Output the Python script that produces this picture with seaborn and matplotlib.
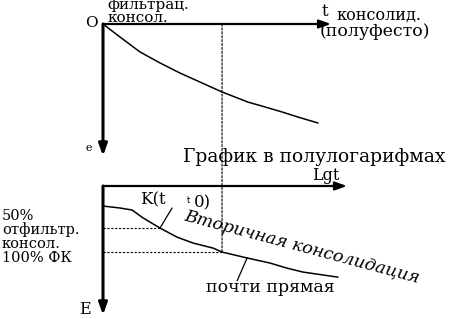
import numpy as np
import pandas as pd
import seaborn as sns
from matplotlib import pyplot
from matplotlib.patches import ConnectionPatch

# top panel: strain e vs time t (arithmetic scale)
t_vals = [0.0, 0.77, 1.68, 2.59, 3.5, 4.41, 5.41, 6.0, 6.59, 7.36, 8.14, 8.86, 9.77]
e_vals = [0.0, 0.59, 1.27, 1.77, 2.23, 2.64, 3.09, 3.32, 3.55, 3.77, 4.0, 4.23, 4.5]

# bottom panel: E vs lg t
lgt_vals = [0.0, 0.77, 1.32, 1.82, 2.59, 3.36, 4.09, 5.0, 5.41, 6.55, 7.59, 8.36, 9.09, 10.68]
E_vals = [0.91, 1.0, 1.09, 1.45, 1.91, 2.32, 2.59, 2.82, 3.0, 3.27, 3.5, 3.73, 3.91, 4.14]

t0 = 5.41        # end of filtration consolidation
lgt50, E50 = 2.59, 1.91
E100 = 3.0

W, H = 463, 319

sns.set_style('white')
pyplot.rcParams['font.family'] = ['DejaVu Serif']

fig = pyplot.figure(figsize=(W / 100, H / 100), dpi=100, facecolor='white')


def box(x0, y0, x1, y1):
    return [x0 / W, 1 - y1 / H, (x1 - x0) / W, (y1 - y0) / H]


def txt(x, y, s, size=12, **kw):
    fig.text(x / W, 1 - y / H, s, fontsize=size, color='black', **kw)


top = fig.add_axes(box(103, 24, 331, 156))
bot = fig.add_axes(box(103, 186, 347, 315))

top.set_xlim(0, 10.36)
top.set_ylim(6.0, 0)
bot.set_xlim(0, 11.09)
bot.set_ylim(5.86, 0)

for ax in (top, bot):
    ax.axis('off')
    x1 = ax.get_xlim()[1]
    y1 = ax.get_ylim()[0]
    arrow = dict(arrowstyle='-|>,head_length=0.7,head_width=0.25', lw=1.6,
                 color='black', shrinkA=0, shrinkB=0)
    ax.annotate('', xy=(x1, 0), xytext=(0, 0), arrowprops=arrow, annotation_clip=False)
    ax.annotate('', xy=(0, y1), xytext=(0, 0), arrowprops=dict(arrow, lw=2.2),
                annotation_clip=False)

df_top = pd.DataFrame({'t': t_vals, 'e': e_vals})
df_bot = pd.DataFrame({'lgt': lgt_vals, 'E': E_vals})

sns.lineplot(data=df_top, x='t', y='e', ax=top, color='black', lw=1.1, sort=False)
sns.lineplot(data=df_bot, x='lgt', y='E', ax=bot, color='black', lw=1.1, sort=False)

# dashed guides
con = ConnectionPatch(xyA=(t0, 0), coordsA=top.transData,
                      xyB=(t0, E100), coordsB=bot.transData,
                      linestyle=(0, (2, 1.5)), lw=0.8, color='black')
fig.add_artist(con)
bot.hlines([E50], 0, lgt50, color='black', lw=0.8, linestyles=[(0, (2, 1.5))])
bot.hlines([E100], 0, t0, color='black', lw=0.8, linestyles=[(0, (2, 1.5))])

# leader lines
bot.plot([lgt50, 3.14], [E50, 1.0], color='black', lw=0.9)
bot.plot([6.55, 6.1], [3.27, 4.3], color='black', lw=0.9)

# labels
txt(107, 5, 'фильтрац.', size=11, va='center')
txt(107, 18, 'консол.', size=11, va='center')
txt(85, 23, 'O', size=11, va='center')
txt(322, 12, 't', size=12, va='center')
txt(336, 15, 'консолид.', size=11.5, va='center')
txt(320, 32, '(полуфесто)', size=12.5, va='center')
txt(86, 148, 'е', size=8, va='center')
txt(183, 157, 'График в полулогарифмах', size=13.5, va='center')
txt(312, 175, 'Lgt', size=11.5, va='center')
txt(140, 200, 'K(t', va='center')
txt(186, 199, '$_{\\rm t}$', size=9, va='center')
txt(194, 203, '0)', va='center')
txt(302, 247, 'Вторичная консолидация', size=12.5, ha='center', va='center',
    rotation=-15, style='italic')
txt(270, 287, 'почти прямая', size=12.5, ha='center', va='center')
txt(2, 216, '50%', size=10.5, va='center')
txt(2, 230, 'отфильтр.', size=10.5, va='center')
txt(2, 244, 'консол.', size=10.5, va='center')
txt(2, 258, '100% ФК', size=10.5, va='center')
txt(79, 309, 'E', size=11.5, va='center')

fig.savefig('out.png', dpi=100, facecolor='white')
